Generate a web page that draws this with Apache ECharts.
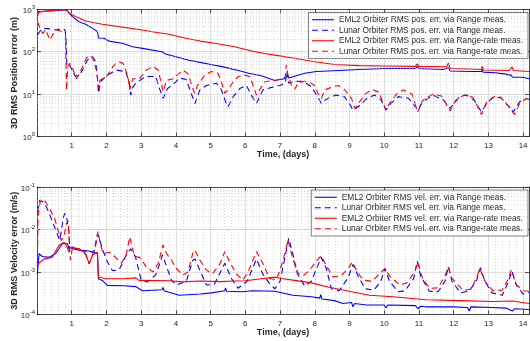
<!DOCTYPE html>
<html><head><meta charset="utf-8">
<script src="https://cdn.jsdelivr.net/npm/echarts@6/dist/echarts.min.js"></script>
<style>html,body{margin:0;padding:0;background:#fff}#c{width:530px;height:341px}</style>
</head><body><div id="c"></div>
<script>
// ---------- names ----------
const posNames = [
  'EML2 Orbiter RMS pos. err. via Range meas.',
  'Lunar Orbiter RMS pos. err. via Range meas.',
  'EML2 Orbiter RMS pos. err. via Range-rate meas.',
  'Lunar Orbiter RMS pos. err. via Range-rate meas.'
];
const velNames = [
  'EML2 Orbiter RMS vel. err. via Range meas.',
  'Lunar Orbiter RMS vel. err. via Range meas.',
  'EML2 Orbiter RMS vel. err. via Range-rate meas.',
  'Lunar Orbiter RMS vel. err. via Range-rate meas.'
];
const xTitle = 'Time, (days)';
const posTitle = '3D RMS Position error (m)';
const velTitle = '3D RMS Velocity error (m/s)';
const posRange = [1, 1000];
const velRange = [1e-4, 1e-1];
const dayMax = 14.17;

// ---------- position error [day, m] ----------
const posEml2Range = [[0.01,600],[0.03,880],[0.06,870],[0.2,900],[0.4,920],[0.6,940],[0.75,960],[0.85,980],[0.9,850],[1.02,670],[1.21,510],[1.4,443],[1.6,355],[1.74,300],[1.77,210],[1.93,207],[2.07,178],[2.46,158],[2.75,131],[3.04,120],[3.6,100],[3.7,88],[4.0,76],[4.38,63],[4.7,56],[5.0,50],[5.3,45],[5.8,36],[6.1,31],[6.46,27],[6.85,21],[7.0,22],[7.13,23],[7.2,30],[7.25,24],[7.71,31],[8.05,34],[8.38,35],[9.29,38],[10.0,40],[10.9,40],[10.95,45],[11.0,40],[11.7,38],[11.85,42],[11.9,35],[12.5,34],[12.8,34],[12.82,38],[12.85,33],[13.2,32],[13.45,30],[13.65,28],[13.7,25],[13.75,27],[14.0,25],[14.17,23]];
const posLunarRange = [[0.02,250],[0.08,300],[0.15,355],[0.3,350],[0.45,340],[0.54,325],[0.73,355],[0.8,330],[0.83,250],[0.86,49],[0.92,53],[1.02,34],[1.11,26],[1.26,31],[1.45,63],[1.6,76],[1.69,58],[1.74,25],[1.77,10.5],[1.83,19.6],[1.98,26],[2.27,37],[2.55,34],[2.65,20],[2.7,9.5],[2.75,14],[2.84,18],[3.13,26],[3.42,26],[3.53,13.5],[3.63,7.9],[3.76,13.5],[4.0,19.6],[4.1,24],[4.3,22],[4.45,10],[4.55,6.0],[4.69,12.6],[4.88,16],[5.17,18],[5.31,12.6],[5.45,6],[5.5,5.0],[5.65,8.7],[5.84,13.5],[6.03,16],[6.17,9.5],[6.32,6.0],[6.51,12.6],[6.7,14],[6.99,16],[7.15,18],[7.2,34],[7.25,18],[7.4,20],[7.66,20],[7.9,15],[8.05,9.5],[8.19,6.0],[8.33,7.5],[8.6,9.5],[8.85,8.7],[9.0,6],[9.1,4.2],[9.3,5.4],[9.5,7.9],[9.72,9.5],[9.9,7.5],[10.05,4.2],[10.15,5.5],[10.4,8.7],[10.7,8.0],[10.97,4.2],[11.1,6.5],[11.4,9.5],[11.7,7.3],[11.9,4.6],[12.17,8.7],[12.37,9.5],[12.6,7],[12.8,3.8],[12.95,6],[13.13,8.3],[13.35,8.3],[13.6,5],[13.72,3.8],[13.9,6.6],[14.1,7.9],[14.17,7.5]];
const posEml2Rate = [[0.01,700],[0.05,850],[0.3,920],[0.6,960],[0.8,990],[0.9,870],[1.02,735],[1.4,530],[1.88,443],[2.36,390],[2.84,343],[3.32,296],[3.8,257],[4.28,207],[4.71,178],[5.12,158],[5.69,131],[6.27,100],[6.85,83],[7.42,70],[8.0,58],[8.57,50],[9.29,47],[10.0,46],[10.9,45],[10.95,52],[11.0,45],[11.8,44],[11.85,54],[11.9,40],[12.5,39],[12.8,38],[12.82,45],[12.85,37],[13.6,36],[13.68,44],[13.72,36],[14.17,34]];
const posLunarRate = [[0.02,500],[0.1,330],[0.17,270],[0.25,330],[0.37,189],[0.45,250],[0.56,325],[0.75,296],[0.82,280],[0.85,12.4],[0.89,45],[0.94,53],[1.04,37],[1.13,23],[1.23,31],[1.42,70],[1.52,83],[1.61,70],[1.71,37],[1.78,13.5],[1.81,21],[2.0,26],[2.19,45],[2.33,58],[2.48,53],[2.62,26],[2.67,12.6],[2.76,23],[2.95,23],[3.15,37],[3.34,45],[3.49,37],[3.58,18],[3.63,11.4],[3.73,21],[3.92,23],[4.2,37],[4.35,30],[4.48,14],[4.54,10.5],[4.62,16],[4.83,28],[5.02,34],[5.21,31],[5.31,19.6],[5.41,10.5],[5.5,12.6],[5.65,19.6],[5.79,26],[5.98,28],[6.13,26],[6.27,12.4],[6.32,9.5],[6.41,12.6],[6.56,19.6],[6.85,21],[7.04,23],[7.15,25],[7.18,49],[7.22,30],[7.33,16],[7.42,13],[7.52,18],[7.71,20],[7.85,19],[8.0,16],[8.09,10.5],[8.19,7.9],[8.29,12.6],[8.48,14.5],[8.67,16],[8.85,13],[9.06,7.9],[9.15,4.6],[9.29,6.6],[9.45,10],[9.65,13],[9.85,11],[10.05,4.2],[10.15,6],[10.35,10],[10.55,12.6],[10.8,10],[10.97,3.8],[11.1,7],[11.4,10],[11.65,9],[11.9,4.0],[12.05,7],[12.3,9.5],[12.55,8.5],[12.8,3.3],[12.95,6.5],[13.15,8.7],[13.35,8.5],[13.6,5],[13.75,3.3],[13.9,6],[14.1,8],[14.17,7.5]];

// ---------- velocity error [day, m/s] ----------
const velEml2Range = [[0.01,9e-4],[0.03,1.4e-3],[0.06,2.7e-3],[0.15,2.3e-3],[0.35,2.2e-3],[0.54,2.7e-3],[0.73,4.6e-3],[0.88,4.6e-3],[0.92,3.5e-3],[1.02,3.85e-3],[1.21,3.2e-3],[1.5,3.1e-3],[1.74,2.7e-3],[1.77,6.9e-4],[1.88,6.3e-4],[2.03,4.8e-4],[2.5,4.7e-4],[2.84,4.5e-4],[3.04,3.6e-4],[3.6,3.8e-4],[3.63,4.3e-4],[3.66,3.6e-4],[3.8,3.3e-4],[4.09,2.8e-4],[4.71,3.0e-4],[5.02,3.2e-4],[5.41,3.6e-4],[5.43,4.2e-4],[5.46,3.5e-4],[5.9,3.4e-4],[6.2,3.6e-4],[6.85,3.5e-4],[7.37,2.8e-4],[7.9,2.6e-4],[8.14,2.4e-4],[8.17,2.9e-4],[8.2,2.3e-4],[8.57,2.1e-4],[8.81,1.8e-4],[9.06,1.9e-4],[9.1,1.5e-4],[9.15,1.8e-4],[9.49,1.65e-4],[10.0,1.65e-4],[10.05,1.4e-4],[10.1,1.65e-4],[10.9,1.6e-4],[10.97,1.35e-4],[11.05,1.55e-4],[11.2,1.5e-4],[12.0,1.5e-4],[12.4,1.45e-4],[12.45,1.2e-4],[12.5,1.5e-4],[13.1,1.45e-4],[13.5,1.4e-4],[13.7,1.2e-4],[13.75,1.35e-4],[14.17,1.3e-4]];
const velLunarRange = [[0.01,2.6e-2],[0.08,4.9e-2],[0.17,4.5e-2],[0.27,3.4e-2],[0.37,2.2e-2],[0.46,1.4e-2],[0.56,8.9e-3],[0.65,5.6e-3],[0.7,9e-3],[0.75,1.8e-2],[0.8,2.4e-2],[0.85,2.0e-2],[0.92,8.9e-3],[0.94,4.3e-3],[1.02,3.5e-3],[1.3,3.2e-3],[1.64,2.9e-3],[1.74,7.9e-3],[1.79,6.5e-3],[1.88,3.5e-3],[2.03,1.7e-3],[2.17,1.08e-3],[2.36,1.1e-3],[2.57,2.5e-3],[2.7,3.5e-3],[2.84,2.2e-3],[3.0,6.4e-4],[3.18,5.8e-4],[3.42,8.5e-4],[3.56,1.8e-3],[3.61,2.5e-3],[3.71,1.5e-3],[3.87,6.4e-4],[4.01,4.9e-4],[4.3,6e-4],[4.49,1.9e-3],[4.55,2.0e-3],[4.69,1.1e-3],[4.88,4.9e-4],[5.1,5e-4],[5.26,9e-4],[5.41,1.6e-3],[5.6,7e-4],[5.79,4.1e-4],[6.05,6e-4],[6.32,2.0e-3],[6.5,9e-4],[6.7,5.3e-4],[6.85,4.0e-4],[7.0,6e-4],[7.1,1.5e-3],[7.25,6.2e-3],[7.35,3e-3],[7.5,9e-4],[7.71,4.6e-4],[7.9,6e-4],[8.05,1.2e-3],[8.19,2.2e-3],[8.33,1.2e-3],[8.48,4.0e-4],[8.7,3.6e-4],[8.95,7e-4],[9.1,1.5e-3],[9.25,8e-4],[9.45,4e-4],[9.7,3.7e-4],[9.9,6e-4],[10.02,1.2e-3],[10.15,6e-4],[10.4,3.4e-4],[10.6,3.6e-4],[10.85,7e-4],[10.95,1.8e-3],[11.05,8e-4],[11.3,3.5e-4],[11.55,3.4e-4],[11.75,6e-4],[11.85,1.35e-3],[11.95,6e-4],[12.2,3.2e-4],[12.45,3.6e-4],[12.65,6e-4],[12.77,1.25e-3],[12.9,6e-4],[13.1,3.2e-4],[13.4,2.8e-4],[13.58,6e-4],[13.68,1.05e-3],[13.8,5e-4],[14.0,3.0e-4],[14.17,3.3e-4]];
const velEml2Rate = [[0.01,1.4e-3],[0.05,1.6e-3],[0.2,2.0e-3],[0.44,2.2e-3],[0.63,4.2e-3],[0.78,5.0e-3],[0.87,3.8e-3],[0.92,2.9e-3],[0.95,3.8e-3],[1.21,3.5e-3],[1.4,2.7e-3],[1.5,1.55e-3],[1.6,2.5e-3],[1.74,2.9e-3],[1.77,7.6e-4],[1.98,6.9e-4],[2.5,6.9e-4],[2.84,7.2e-4],[2.94,6.3e-4],[3.8,6.2e-4],[4.19,5.8e-4],[4.71,6.1e-4],[5.3,5.9e-4],[5.69,6.1e-4],[6.0,6.2e-4],[6.46,6.9e-4],[6.85,7.5e-4],[7.04,7.0e-4],[7.42,6.3e-4],[7.9,5.5e-4],[8.38,4.4e-4],[9.06,3.4e-4],[9.58,2.8e-4],[10.25,2.6e-4],[11.2,2.2e-4],[12.2,2.1e-4],[13.13,2.0e-4],[13.7,2.05e-4],[14.17,1.8e-4]];
const velLunarRate = [[0.01,1.4e-3],[0.03,2.0e-2],[0.1,4.9e-2],[0.15,5.4e-2],[0.22,4.8e-2],[0.37,3.0e-2],[0.51,1.8e-2],[0.62,8.5e-3],[0.7,5.5e-3],[0.78,7e-3],[0.85,1.4e-2],[0.9,1.6e-2],[0.93,5e-3],[0.96,1.9e-3],[1.02,3.7e-3],[1.21,3.5e-3],[1.4,2.6e-3],[1.5,1.55e-3],[1.6,2.5e-3],[1.69,4.2e-3],[1.76,8.9e-3],[1.81,5.1e-3],[1.9,2.7e-3],[2.09,2.9e-3],[2.24,2.3e-3],[2.43,1.6e-3],[2.57,2.5e-3],[2.67,6.7e-3],[2.72,4.5e-3],[2.81,2.3e-3],[2.96,2.2e-3],[3.15,1.3e-3],[3.34,1.0e-3],[3.49,1.6e-3],[3.63,4.3e-3],[3.73,2.7e-3],[3.87,1.9e-3],[4.01,1.2e-3],[4.2,8.4e-4],[4.35,1.0e-3],[4.49,2.8e-3],[4.54,3.3e-3],[4.69,1.9e-3],[4.88,1.1e-3],[5.05,9e-4],[5.26,1.5e-3],[5.41,3.0e-3],[5.55,1.7e-3],[5.74,9e-4],[5.93,6.4e-4],[6.08,1.0e-3],[6.32,3.0e-3],[6.5,1.6e-3],[6.7,7e-4],[6.9,6.5e-4],[7.09,1.9e-3],[7.23,5.6e-3],[7.37,2.0e-3],[7.52,9.2e-4],[7.66,8e-4],[7.85,1.1e-3],[8.09,2.0e-3],[8.19,2.4e-3],[8.33,1.4e-3],[8.52,7.7e-4],[8.75,8e-4],[8.96,1.2e-3],[9.08,1.7e-3],[9.2,1.1e-3],[9.39,6.4e-4],[9.65,6e-4],[9.87,9e-4],[10.02,1.2e-3],[10.15,8e-4],[10.45,4.9e-4],[10.65,5.5e-4],[10.88,1.0e-3],[10.97,1.7e-3],[11.1,7e-4],[11.31,4.1e-4],[11.55,4.2e-4],[11.75,8e-4],[11.84,1.3e-3],[11.95,7e-4],[12.27,3.7e-4],[12.5,3.9e-4],[12.65,7e-4],[12.75,1.2e-3],[12.9,6e-4],[13.13,3.6e-4],[13.4,3.7e-4],[13.58,7e-4],[13.66,1.1e-3],[13.8,5e-4],[14.0,3.6e-4],[14.17,3.5e-4]];

// ---------- styling ----------
const FONT = '"Liberation Sans", Arial, Helvetica, sans-serif';
const AX = '#262626';
const BLUE = '#0000ff', RED = '#ff0000';
const DASH = [6, 4];

function minorValues(range) {
  const out = [];
  const lo = Math.round(Math.log10(range[0])), hi = Math.round(Math.log10(range[1]));
  for (let e = lo; e < hi; e++) for (let m = 2; m <= 9; m++) out.push(m * Math.pow(10, e));
  return out;
}
function logLabel(v) {
  const e = Math.round(Math.log10(v));
  return '{b|10}{s|' + e + '}';
}
const richLab = {
  b: { fontSize: 8, fontFamily: FONT, color: AX, padding: [3, 0, 0, 0] },
  s: { fontSize: 6, fontFamily: FONT, color: AX, padding: [0, 0, 4, 0] }
};

function xAxes(gi) {
  return [{
    type: 'value', gridIndex: gi, min: 0, max: dayMax, interval: 1, position: 'bottom',
    name: xTitle, nameLocation: 'middle', nameGap: 14, nameMoveOverlap: false,
    nameTextStyle: { fontFamily: FONT, fontWeight: 'bold', fontSize: 9, color: AX },
    axisLine: { show: true, onZero: false, lineStyle: { color: AX, width: 0.8 } },
    axisTick: { show: true, inside: true, length: 4, lineStyle: { color: AX, width: 0.8 } },
    minorTick: { show: false, splitNumber: 5 },
    axisLabel: { fontFamily: FONT, fontSize: 8, color: AX, margin: 5,
      formatter: v => (v === 0 || Math.abs(v - Math.round(v)) > 1e-6 ? '' : String(v)) },
    splitLine: { show: true, lineStyle: { color: '#dedede', width: 1 } },
    minorSplitLine: { show: true, lineStyle: { color: '#bdbdbd', width: 0.6, type: [1, 2] } }
  }, {
    type: 'value', gridIndex: gi, min: 0, max: dayMax, interval: 1, position: 'top',
    axisLine: { show: true, onZero: false, lineStyle: { color: AX, width: 0.8 } },
    axisTick: { show: true, inside: true, length: 4, lineStyle: { color: AX, width: 0.8 } },
    axisLabel: { show: false }, splitLine: { show: false }
  }];
}
function yAxes(gi, range, title) {
  return [{
    type: 'log', logBase: 10, gridIndex: gi, min: range[0], max: range[1], position: 'left',
    name: title, nameLocation: 'middle', nameGap: 18, nameRotate: 90, nameMoveOverlap: false,
    nameTextStyle: { fontFamily: FONT, fontWeight: 'bold', fontSize: 9, color: AX },
    axisLine: { show: true, onZero: false, lineStyle: { color: AX, width: 0.8 } },
    axisTick: { show: true, inside: true, length: 4, lineStyle: { color: AX, width: 0.8 } },
    axisLabel: { formatter: logLabel, rich: richLab, margin: 2 },
    splitLine: { show: true, lineStyle: { color: '#dedede', width: 1 } }
  }, {
    type: 'log', logBase: 10, gridIndex: gi, min: range[0], max: range[1], position: 'right',
    axisLine: { show: true, onZero: false, lineStyle: { color: AX, width: 0.8 } },
    axisTick: { show: true, inside: true, length: 4, lineStyle: { color: AX, width: 0.8 } },
    axisLabel: { show: false }, splitLine: { show: false }
  }];
}
function line(name, data, xi, yi, color, dashed) {
  return {
    name, type: 'line', data, xAxisIndex: xi, yAxisIndex: yi, symbol: 'none', showSymbol: false,
    lineStyle: { color, width: 1.1, type: dashed ? DASH : 'solid' }, itemStyle: { color },
    z: 3, silent: true
  };
}
function minorGrid(xi, yi, range) {
  return {
    type: 'line', data: [], xAxisIndex: xi, yAxisIndex: yi, silent: true, z: 1,
    markLine: {
      silent: true, symbol: ['none', 'none'], label: { show: false },
      lineStyle: { color: '#bdbdbd', width: 0.6, type: [1, 2] },
      data: minorValues(range).map(v => ({ yAxis: v }))
    }
  };
}
function legend(names, top) {
  return {
    data: names, right: 2, top, orient: 'vertical', selectedMode: false,
    itemWidth: 22, itemHeight: 10.5, itemGap: 0,
    padding: [2, 5, 2, 3], backgroundColor: '#fff',
    borderColor: AX, borderWidth: 0.6,
    itemStyle: { opacity: 0, borderWidth: 0 },
    lineStyle: { width: 1.1 },
    textStyle: { fontFamily: FONT, fontSize: 8.3, lineHeight: 10.5, color: AX, padding: [0, 0, 0, 0] }
  };
}

const chart = echarts.init(document.getElementById('c'), null, { renderer: 'canvas' });
chart.setOption({
  animation: false,
  backgroundColor: '#fff',
  grid: [
    { left: 37, top: 9.3, width: 492, height: 127.2, outerBoundsMode: 'none', containLabel: false },
    { left: 37, top: 187, width: 492, height: 127.3, outerBoundsMode: 'none', containLabel: false }
  ],
  xAxis: [...xAxes(0), ...xAxes(1)],
  yAxis: [...yAxes(0, posRange, posTitle), ...yAxes(1, velRange, velTitle)],
  legend: [legend(posNames, 12.5), legend(velNames, 190)],
  series: [
    minorGrid(0, 0, posRange),
    minorGrid(2, 2, velRange),
    line(posNames[0], posEml2Range, 0, 0, BLUE, false),
    line(posNames[1], posLunarRange, 0, 0, BLUE, true),
    line(posNames[2], posEml2Rate, 0, 0, RED, false),
    line(posNames[3], posLunarRate, 0, 0, RED, true),
    line(velNames[0], velEml2Range, 2, 2, BLUE, false),
    line(velNames[1], velLunarRange, 2, 2, BLUE, true),
    line(velNames[2], velEml2Rate, 2, 2, RED, false),
    line(velNames[3], velLunarRate, 2, 2, RED, true)
  ]
});
</script>
</body></html>
